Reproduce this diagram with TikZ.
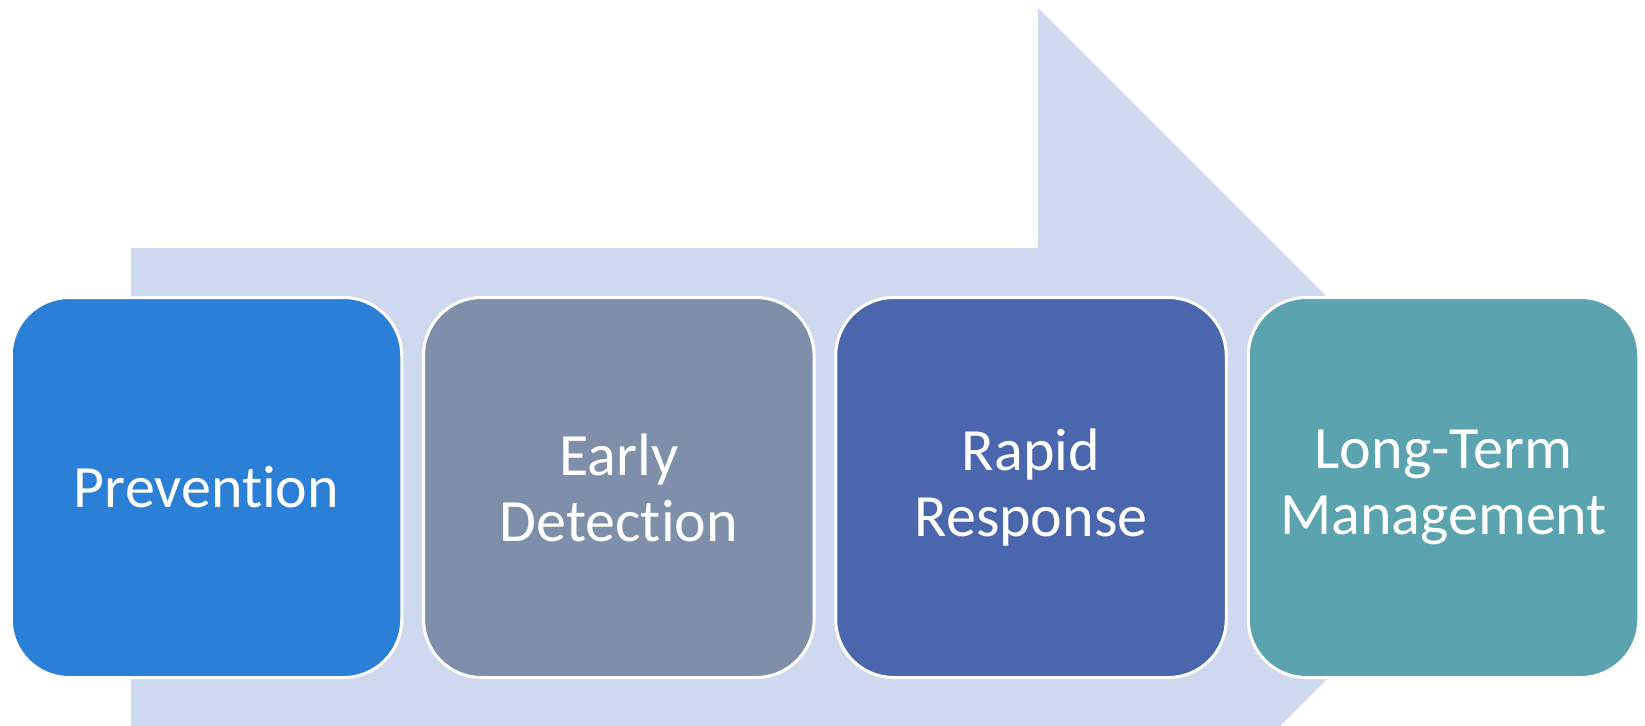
\documentclass[tikz,border=0pt]{standalone}
\usepackage{fontspec}
\usepackage{xcolor}
\usepackage{tikz}
\usetikzlibrary{shapes,arrows,positioning,calc}
\setmainfont[Ligatures=NoCommon]{Carlito}

\definecolor{bandblue}{RGB}{206,217,239}
\definecolor{prevblue}{RGB}{44,127,214}
\definecolor{detgrey}{RGB}{127,143,169}
\definecolor{respblue}{RGB}{74,102,172}
\definecolor{mgmtteal}{RGB}{91,163,175}

\tikzset{
  stage/.style={draw=white,line width=1.5pt,rounded corners=29pt,
    minimum width=195.25pt,minimum height=190pt,inner sep=0pt,
    text=white,align=center,font=\fontsize{30}{33}\selectfont}
}

\begin{document}
\begin{tikzpicture}[x=0.5pt,y=-0.5pt]
  \clip (0,0) rectangle (1645,725);
  % background arrow
  \fill[bandblue] (131,248) -- (1038,248) -- (1038,8) -- (1518,488)
    -- (1038,968) -- (1038,728) -- (131,728) -- cycle;

  \node[stage,fill=prevblue] (prev) at (206.5,487.5) {Prevention};
  \node[stage,fill=detgrey] (detect) at (618.8,487.5) {Early\\Detection};
  \node[stage,fill=respblue] (respond) at (1031,487.5) {Rapid\\Response};
  \node[stage,fill=mgmtteal] (manage) at (1443.5,487.5) {Long-Term\\Management};
\end{tikzpicture}
\end{document}
